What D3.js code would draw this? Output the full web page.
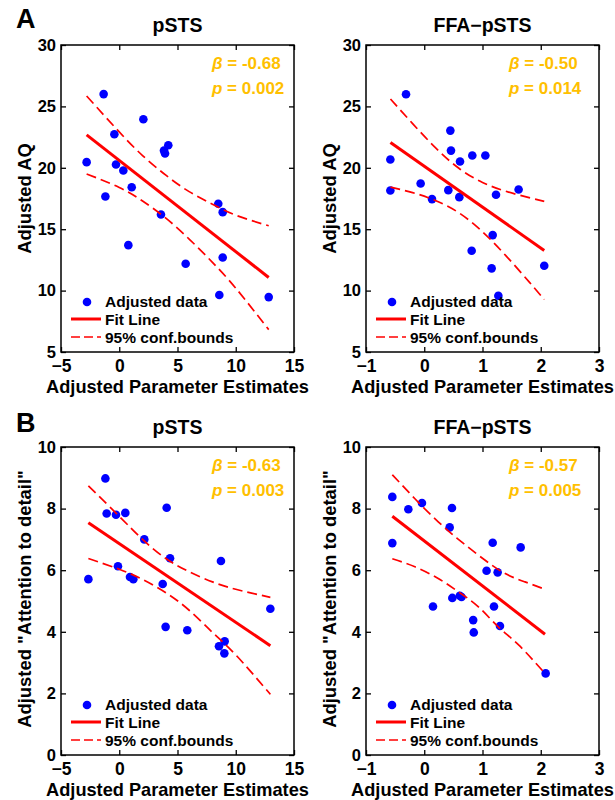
<!DOCTYPE html>
<meta charset="utf-8">
<script src="https://d3js.org/d3.v7.min.js"></script>
<style>
  body { margin: 0; background: #fff; }
  text { font-family: "Liberation Sans", Arial, sans-serif; font-weight: bold; }
</style>
<div id="my_dataviz"></div>
<script>

// ---- data ----
// panel A, pSTS: adjusted parameter estimate vs adjusted AQ
var aqPstsPoints = [[-1.34,26.0],[2.07,23.95],[-0.42,22.73],[4.21,21.84],[3.84,21.4],[3.93,21.16],
  [-2.8,20.46],[-0.28,20.27],[0.35,19.78],[1.07,18.42],[-1.19,17.66],[3.58,16.2],[0.78,13.7],
  [5.70,12.19],[8.5,17.07],[8.88,16.39],[8.88,12.7],[8.59,9.64],[12.83,9.47]]
var aqPstsFit = [[-2.8,22.68],[12.83,11.07]]
var aqPstsUpper = [[-2.8,25.85],[0,22.92],[2,21.0],[4,19.4],[6,18.06],[8,17.04],[10,16.14],[12.83,15.28]]
var aqPstsLower = [[-2.8,19.5],[0,18.4],[2,17.3],[4,15.9],[6,14.2],[8,12.3],[10,10.2],[12.83,6.82]]

// panel A, FFA-pSTS
var aqFfaPoints = [[-0.313,25.99],[-0.582,20.67],[-0.582,18.15],[-0.062,18.72],[0.133,17.45],
  [0.448,23.03],[0.459,21.40],[0.413,18.18],[0.614,20.51],[0.602,17.61],[0.825,21.0],[1.049,21.0],
  [0.814,13.24],[1.175,14.52],[1.157,11.81],[1.232,17.80],[1.62,18.23],[1.272,9.58],[2.06,12.02]]
var aqFfaFit = [[-0.58,22.06],[2.06,13.27]]
var aqFfaUpper = [[-0.58,25.6],[-0.2,23.6],[0.2,21.6],[0.6,19.94],[1.0,18.81],[1.4,18.09],[1.8,17.57],[2.06,17.27]]
var aqFfaLower = [[-0.58,18.42],[-0.2,17.98],[0.2,17.32],[0.6,16.32],[1.0,14.79],[1.4,12.85],[1.8,10.71],[2.06,9.27]]

// panel B, pSTS: attention to detail
var attPstsPoints = [[-1.19,8.98],[-1.08,7.84],[-0.28,7.80],[0.52,7.86],[4.07,8.03],[2.15,7.0],
  [4.36,6.39],[-0.11,6.13],[-2.65,5.71],[0.92,5.78],[1.21,5.71],[3.73,5.55],[8.73,6.30],[12.97,4.75],
  [3.98,4.16],[5.84,4.05],[8.56,3.53],[9.05,3.69],[9.02,3.30]]
var attPstsFit = [[-2.65,7.54],[12.97,3.55]]
var attPstsUpper = [[-2.65,8.74],[0,7.75],[2,7.0],[4,6.38],[6,5.95],[8,5.62],[10,5.38],[12.97,5.12]]
var attPstsLower = [[-2.65,6.38],[0,6.03],[2,5.70],[4,5.27],[6,4.70],[8,3.98],[10,3.25],[12.97,1.97]]

// panel B, FFA-pSTS
var attFfaPoints = [[-0.548,8.38],[-0.548,6.88],[-0.273,7.98],[-0.039,8.18],[0.476,8.02],[0.436,7.39],
  [0.150,4.82],[0.482,5.10],[0.61,5.17],[0.64,5.13],[1.07,5.98],[1.26,5.93],[1.175,6.89],[1.655,6.74],
  [1.197,4.82],[0.84,4.38],[0.85,3.98],[1.30,4.19],[2.084,2.65]]
var attFfaFit = [[-0.548,7.75],[2.073,3.92]]
var attFfaUpper = [[-0.548,9.10],[-0.16,8.32],[0.24,7.57],[0.64,6.92],[1.04,6.33],[1.39,5.89],[1.73,5.62],[2.073,5.38]]
var attFfaLower = [[-0.548,6.37],[-0.16,6.11],[0.24,5.73],[0.585,5.30],[0.93,4.81],[1.27,4.16],[1.615,3.58],[2.073,2.65]]

var pstsXTicks = [-5, 0, 5, 10, 15]
var ffaXTicks = [-1, 0, 1, 2, 3]
var aqYTicks = [5, 10, 15, 20, 25, 30]
var attYTicks = [0, 2, 4, 6, 8, 10]

var legendLabels = ["Adjusted data", "Fit Line", "95% conf.bounds"]

var svg = d3.select("#my_dataviz")
  .append("svg")
    .attr("width", 615)
    .attr("height", 800)

svg.append("rect").attr("width", 615).attr("height", 800).attr("fill", "#fff")

// one scatter panel
function drawPanel(p) {
  var x = d3.scaleLinear().domain(d3.extent(p.xTicks)).range([p.x0, p.x1])
  var y = d3.scaleLinear().domain(d3.extent(p.yTicks)).range([p.y1, p.y0])
  var g = svg.append("g")

  // axes with inward ticks on all four sides
  var xb = g.append("g").attr("transform", "translate(0," + p.y1 + ")")
    .call(d3.axisBottom(x).tickValues(p.xTicks).tickSize(-5).tickPadding(7.5).tickFormat(d3.format("d")))
  g.append("g").attr("transform", "translate(0," + p.y0 + ")")
    .call(d3.axisTop(x).tickValues(p.xTicks).tickSize(-5).tickFormat(""))
  var yl = g.append("g").attr("transform", "translate(" + p.x0 + ",0)")
    .call(d3.axisLeft(y).tickValues(p.yTicks).tickSize(-5).tickPadding(5))
  g.append("g").attr("transform", "translate(" + p.x1 + ",0)")
    .call(d3.axisRight(y).tickValues(p.yTicks).tickSize(-5).tickFormat(""))
  g.selectAll(".domain").remove()
  g.selectAll(".tick line").attr("stroke", "#000").attr("stroke-width", 1.3)
  g.selectAll(".tick text").attr("fill", "#000")
    .style("font-family", "'Liberation Sans', Arial, sans-serif")
  xb.selectAll(".tick text").attr("font-size", 17.5)
  yl.selectAll(".tick text").attr("font-size", 16.5)

  g.append("rect")
    .attr("x", p.x0).attr("y", p.y0)
    .attr("width", p.x1 - p.x0).attr("height", p.y1 - p.y0)
    .attr("fill", "none").attr("stroke", "#000").attr("stroke-width", 1.5)

  var line = d3.line().x(function(d){ return x(d[0]) }).y(function(d){ return y(d[1]) })
  var curve = d3.line().curve(d3.curveNatural).x(function(d){ return x(d[0]) }).y(function(d){ return y(d[1]) })

  g.selectAll("circle")
    .data(p.points)
    .enter()
    .append("circle")
      .attr("cx", function(d){ return x(d[0]) })
      .attr("cy", function(d){ return y(d[1]) })
      .attr("r", 4.3)
      .attr("fill", "#0000ff")

  g.append("path").datum(p.fit).attr("d", line)
    .attr("fill", "none").attr("stroke", "#ff0000").attr("stroke-width", 3)
  ;[p.upper, p.lower].forEach(function(b){
    g.append("path").datum(b).attr("d", curve)
      .attr("fill", "none").attr("stroke", "#ff0000").attr("stroke-width", 1.7)
      .attr("stroke-dasharray", "10,5")
  })

  // titles and labels
  g.append("text").attr("x", (p.x0 + p.x1) / 2).attr("y", p.y0 - p.titleGap)
    .attr("text-anchor", "middle").attr("font-size", 19.5).text(p.title)
  g.append("text").attr("x", (p.x0 + p.x1) / 2).attr("y", p.y1 + 40.5)
    .attr("text-anchor", "middle").attr("font-size", 18.2).text("Adjusted Parameter Estimates")
  g.append("text")
    .attr("transform", "translate(" + (p.x0 - 30) + "," + ((p.y0 + p.y1) / 2 - p.yLabelShift) + ") rotate(-90)")
    .attr("text-anchor", "middle").attr("font-size", 18.4).text(p.yLabel)

  // statistics
  var st = g.append("text").attr("x", p.x0 + p.statX).attr("y", p.y0 + 24)
    .attr("font-size", 17).attr("fill", "#ffc000")
  st.append("tspan").attr("font-style", "italic").text("β")
  st.append("tspan").text(" = " + p.beta)
  var sp = g.append("text").attr("x", p.x0 + p.statX).attr("y", p.y0 + 49)
    .attr("font-size", 17).attr("fill", "#ffc000")
  sp.append("tspan").attr("font-style", "italic").text("p")
  sp.append("tspan").text(" = " + p.pval)

  // legend
  var lx = p.x0, ly = p.y1
  g.append("circle").attr("cx", lx + 26).attr("cy", ly - 50).attr("r", 4.3).attr("fill", "#0000ff")
  g.append("line").attr("x1", lx + 10).attr("x2", lx + 40).attr("y1", ly - 33).attr("y2", ly - 33)
    .attr("stroke", "#ff0000").attr("stroke-width", 3)
  g.append("line").attr("x1", lx + 10).attr("x2", lx + 40).attr("y1", ly - 15).attr("y2", ly - 15)
    .attr("stroke", "#ff0000").attr("stroke-width", 1.7).attr("stroke-dasharray", "9,4")
  g.selectAll(".leg").data(legendLabels).enter().append("text")
    .attr("x", lx + 44)
    .attr("y", function(d, i){ return ly - 45 + i * 18 })
    .attr("font-size", 15.5)
    .text(function(d){ return d })
}

drawPanel({x0: 61, x1: 294, y0: 45, y1: 352, xTicks: pstsXTicks, yTicks: aqYTicks,
  points: aqPstsPoints, fit: aqPstsFit, upper: aqPstsUpper, lower: aqPstsLower,
  title: "pSTS", titleGap: 13, yLabel: "Adjusted AQ", yLabelShift: 0, beta: "-0.68", pval: "0.002", statX: 151})
drawPanel({x0: 366, x1: 599, y0: 45, y1: 352, xTicks: ffaXTicks, yTicks: aqYTicks,
  points: aqFfaPoints, fit: aqFfaFit, upper: aqFfaUpper, lower: aqFfaLower,
  title: "FFA\u2212pSTS", titleGap: 13, yLabel: "Adjusted AQ", yLabelShift: 0, beta: "-0.50", pval: "0.014", statX: 143})
drawPanel({x0: 61, x1: 294, y0: 447, y1: 755, xTicks: pstsXTicks, yTicks: attYTicks,
  points: attPstsPoints, fit: attPstsFit, upper: attPstsUpper, lower: attPstsLower,
  title: "pSTS", titleGap: 13, yLabel: "Adjusted \"Attention to detail\"", yLabelShift: 2, beta: "-0.63", pval: "0.003", statX: 151})
drawPanel({x0: 366, x1: 599, y0: 447, y1: 755, xTicks: ffaXTicks, yTicks: attYTicks,
  points: attFfaPoints, fit: attFfaFit, upper: attFfaUpper, lower: attFfaLower,
  title: "FFA\u2212pSTS", titleGap: 13, yLabel: "Adjusted \"Attention to detail\"", yLabelShift: 2, beta: "-0.57", pval: "0.005", statX: 143})

// panel letters
svg.append("text").attr("x", 16).attr("y", 28).attr("font-size", 27).text("A")
svg.append("text").attr("x", 16).attr("y", 432).attr("font-size", 27).text("B")

</script>
